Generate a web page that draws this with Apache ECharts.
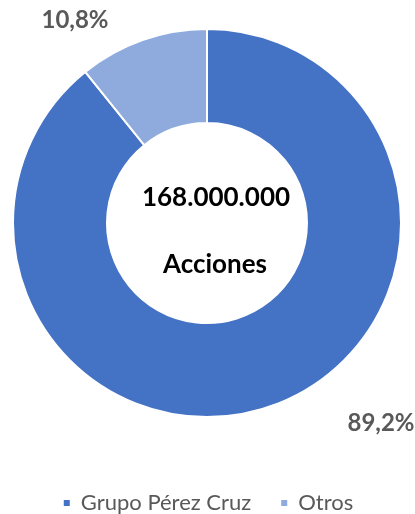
<!DOCTYPE html>
<html><head><meta charset="utf-8">
<script src="https://cdn.jsdelivr.net/npm/echarts@6/dist/echarts.min.js"></script>
<style>html,body{margin:0;padding:0;background:#fff}#c{width:415px;height:514px}</style>
</head><body><div id="c"></div>
<script>
const categories = ['Grupo Pérez Cruz', 'Otros'];
const values = [89.2, 10.8];
const colors = ['#4472C4', '#8FAADC'];
const centerLines = ['168.000.000', 'Acciones'];
const labelTexts = ['89,2%', '10,8%'];

const chart = echarts.init(document.getElementById('c'));
const font = 'Lato, "Open Sans", sans-serif';
chart.setOption({
  animation: false,
  legend: {
    top: 487, left: 'center',
    icon: 'rect', itemWidth: 8, itemHeight: 8, itemGap: 28,
    textStyle: { fontFamily: font, fontSize: 22, color: '#595959', padding: [0, 0, 0, 5] },
    data: categories
  },
  graphic: [
    { type: 'text', x: 216, y: 198, style: { text: centerLines[0], fontFamily: font, fontWeight: 'bold', fontSize: 26, fill: '#000', align: 'center', verticalAlign: 'middle' } },
    { type: 'text', x: 215, y: 265, style: { text: centerLines[1], fontFamily: font, fontWeight: 'bold', fontSize: 26, fill: '#000', align: 'center', verticalAlign: 'middle' } }
  ],
  series: [{
    type: 'pie',
    center: [207, 223],
    radius: [100, 194],
    startAngle: 90,
    clockwise: true,
    itemStyle: { borderColor: '#fff', borderWidth: 2 },
    label: {
      show: true, position: 'outside',
      formatter: p => labelTexts[p.dataIndex],
      fontFamily: font, fontWeight: 'bold', fontSize: 24, color: '#595959'
    },
    labelLine: { show: false },
    labelLayout: p => p.dataIndex === 0 ? { x: 381, y: 423, align: 'center', verticalAlign: 'middle' } : { x: 75, y: 20, align: 'center', verticalAlign: 'middle' },
    emphasis: { disabled: true },
    data: categories.map((n, i) => ({ name: n, value: values[i], itemStyle: { color: colors[i] } }))
  }]
});
</script></body></html>
